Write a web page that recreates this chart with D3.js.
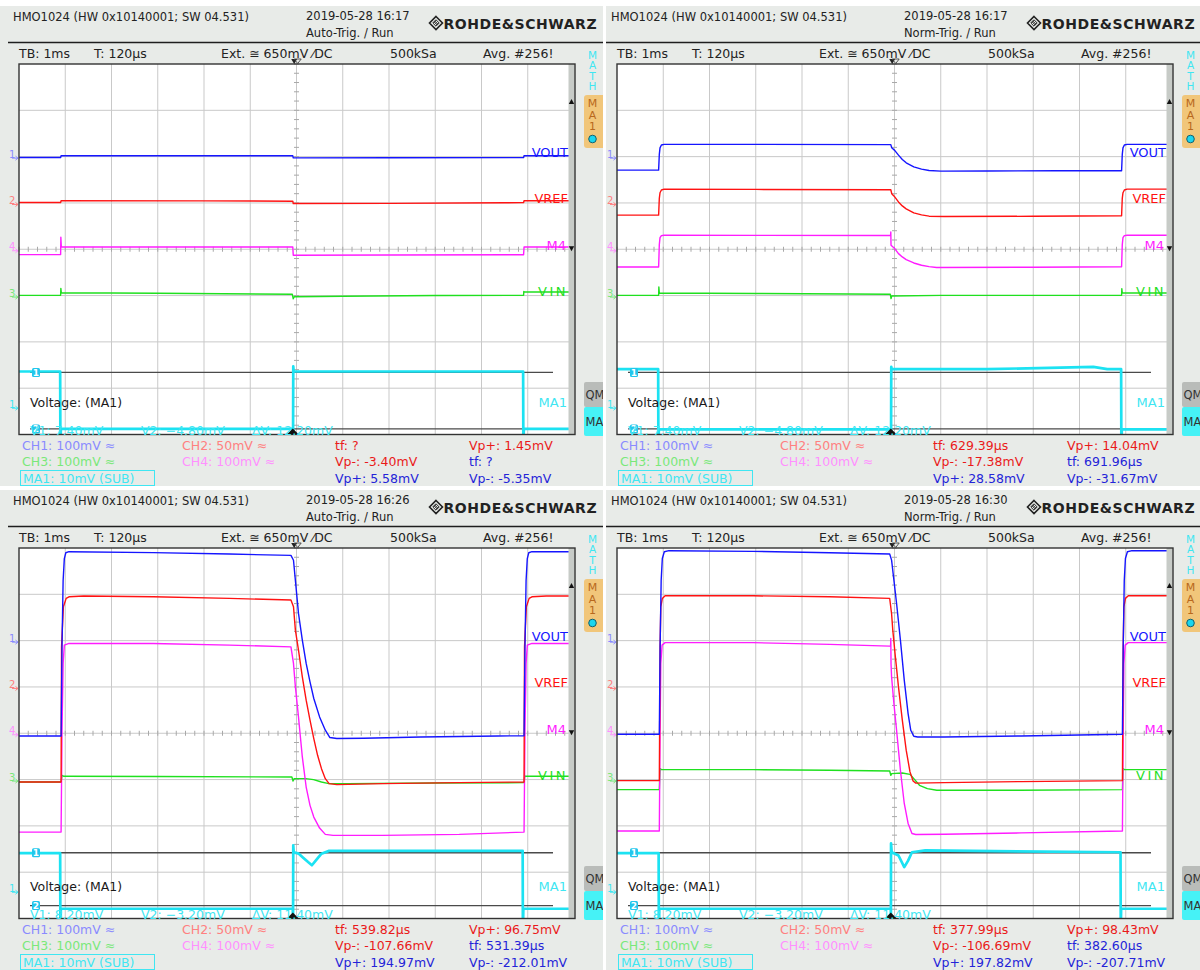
<!DOCTYPE html>
<html><head><meta charset="utf-8">
<script src="https://cdnjs.cloudflare.com/ajax/libs/d3/7.8.5/d3.min.js"></script>
<style>
body{margin:0;background:#fff}
svg{display:block}
text{font-family:"DejaVu Sans",sans-serif}
</style>
</head><body>
<svg id="c" width="1200" height="970"></svg>
<script>
// ---- screen header / readout strings (one entry per capture) ----
const captureDates = ["2019-05-28 16:17", "2019-05-28 16:17", "2019-05-28 16:26", "2019-05-28 16:30"];
const triggerModes = ["Auto-Trig. / Run", "Norm-Trig. / Run", "Auto-Trig. / Run", "Norm-Trig. / Run"];
const redTf      = ["?", "629.39µs", "539.82µs", "377.99µs"];
const redVpPlus  = ["1.45mV", "14.04mV", "96.75mV", "98.43mV"];
const redVpMinus = ["-3.40mV", "-17.38mV", "-107.66mV", "-106.69mV"];
const blueTf      = ["?", "691.96µs", "531.39µs", "382.60µs"];
const blueVpPlus  = ["5.58mV", "28.58mV", "194.97mV", "197.82mV"];
const blueVpMinus = ["-5.35mV", "-31.67mV", "-212.01mV", "-207.71mV"];
const cursorV1 = [7.40, 7.40, 8.20, 8.20];
const cursorV2 = [-4.80, -4.80, -3.20, -3.20];

// ---- channel settings: name, id, mV/div, offset (div) ----
const chNames  = ["VOUT", "VREF", "M4", "VIN"];
const chIds    = ["1", "2", "4", "3"];
const chScale  = [100, 50, 100, 100];
const chOffset = [2, 1, 0, -1];
const mathScale = 10, mathOffset = -3.4;

// ---- traces: [time ms, value mV] ----
// capture 1 (16:17 auto)
const voutA = [[-6,-1.8],[-5.10,-1.8],[-5.09,1.8],[-0.08,1.8],[-0.07,-2.6],[2,-2.3],[4.91,-2.1],[4.92,1.8],[6,1.8]];
const vrefA = [[-6,0.5],[-5.10,0.5],[-5.09,2.4],[-2,2.2],[-0.08,1.9],[-0.07,-0.6],[2,-0.5],[4.5,0.2],[4.91,0.3],[4.92,2.4],[6,2.4]];
const m4A   = [[-6,-11.5],[-5.10,-11.5],[-5.095,26],[-5.085,5],[-0.08,5],[-0.07,-13],[2,-12.5],[4.91,-11.8],[4.92,5],[6,5]];
const vinA  = [[-6,0.5],[-5.10,0.5],[-5.095,15.5],[-5.085,6],[-3,5],[-0.09,2.7],[-0.07,-7],[-0.05,-2.7],[1,-1.5],[3,0],[4.91,0.5],[4.915,9],[4.925,7.7],[6,7.7]];
const ma1A  = [[-6,7.6],[-5.11,7.6],[-5.105,-9],[-5.095,-4.8],[-0.08,-4.8],[-0.075,-9],[-0.07,8.7],[-0.06,7.6],[4.9,7.6],[4.905,-9],[4.915,-4.8],[6,-4.8]];

// capture 2 (16:17 normal)
const voutB = [[-6,-29.2],[-5.10,-29.2],[-5.085,5],[-5.07,19],[-5.04,25],[-4.98,26.4],[-3,26.4],[-0.08,26],[-0.06,19],[0.004,13.5],[0.086,3.2],[0.169,-6.1],[0.253,-13.4],[0.417,-22],[0.584,-27],[0.748,-29.9],[1.0,-31.2],[2,-31],[3.5,-30.6],[4.91,-30.4],[4.925,5],[4.94,19],[4.97,25],[5.03,26.4],[6,26.4]];
const vrefB = [[-6,-13.2],[-5.10,-13.2],[-5.085,5],[-5.07,11],[-5.04,14],[-4.98,14.9],[-3,14.6],[-0.08,14.2],[-0.06,10],[0.004,6.6],[0.086,1.1],[0.169,-3.2],[0.253,-6.4],[0.417,-10.8],[0.584,-12.9],[0.748,-14.3],[1.08,-14.7],[3,-14.4],[4.91,-13.8],[4.925,5],[4.94,11],[4.97,14],[5.03,14.9],[6,14.9]];
const m4B   = [[-6,-38.3],[-5.10,-38.3],[-5.085,10],[-5.07,25],[-5.04,29.5],[-4.98,30.3],[-3,30],[-0.085,29.6],[-0.08,37.4],[-0.075,8.6],[0.004,1.4],[0.086,-9.4],[0.169,-16.6],[0.253,-22.4],[0.417,-29.6],[0.584,-34.6],[0.748,-37.5],[0.91,-39.3],[3,-38.9],[4.91,-37.8],[4.925,10],[4.94,25],[4.97,29.5],[5.03,30.3],[6,30.3]];
const vinB  = [[-6,0.5],[-5.10,0.5],[-5.095,18.5],[-5.085,5.6],[-3,4.5],[-0.09,2.7],[-0.075,-6.7],[-0.06,-0.9],[1,0.3],[4.91,0.5],[4.915,15],[4.925,5.6],[6,5.6]];
const ma1B  = [[-6,8.1],[-5.11,8.1],[-5.105,-9],[-5.095,-4.9],[-0.08,-4.9],[-0.075,-9],[-0.07,8.6],[-0.06,8.1],[2,8.1],[4.3,8.6],[4.6,8.1],[4.9,8.1],[4.905,-9],[4.915,-4.9],[6,-4.9]];

// capture 3 (16:26 auto)
const voutC = [[-6,-206],[-5.09,-206],[-5.07,-13.4],[-5.046,130],[-5.02,177],[-4.988,189.8],[-4.92,192],[-3.10,190],[-1.45,187],[-0.12,184],[-0.065,173.6],[-0.024,130],[0.043,58.8],[0.126,1.1],[0.209,-49.3],[0.292,-89],[0.374,-125],[0.499,-164.7],[0.623,-193.5],[0.722,-209.3],[0.871,-211.4],[1.45,-210.8],[2.69,-208],[4.35,-205.8],[4.92,-205.5],[4.94,-13.4],[4.964,130],[4.99,177],[5.022,189.8],[5.09,192],[6,192]];
const vrefC = [[-6,-102.6],[-5.09,-102.6],[-5.08,43.3],[-5.04,86.5],[-4.98,95.6],[-4.92,97.3],[-4.6,98.1],[-3.1,97.3],[-1.45,95.6],[-0.12,93.8],[-0.065,86.5],[-0.024,61.3],[0.043,39.7],[0.126,10.9],[0.209,-14.3],[0.292,-35.9],[0.374,-55.7],[0.456,-73.8],[0.54,-88.2],[0.623,-99],[0.705,-104.4],[0.871,-105.5],[1.86,-104.4],[3.52,-103.3],[4.92,-102.6],[4.93,43.3],[4.97,86.5],[5.03,95.6],[5.09,97.3],[5.4,98.1],[6,98.1]];
const m4C   = [[-6,-213.4],[-5.09,-213.4],[-5.07,6.5],[-5.046,150.7],[-5.02,190.3],[-4.92,193.9],[-3.1,193.9],[-1.45,190.3],[-0.12,186.6],[-0.065,150.7],[-0.024,100.1],[0.043,35.2],[0.126,-51.2],[0.209,-116.1],[0.292,-155.7],[0.374,-181],[0.499,-204.7],[0.623,-218.4],[0.79,-220.5],[1.86,-220.5],[3.52,-218.4],[4.92,-213.4],[4.94,6.5],[4.964,150.7],[4.99,190.3],[5.09,193.9],[6,193.9]];
const vinC  = [[-6,-5.3],[-5.09,-5.3],[-5.07,9],[-5.03,7],[-3,6.5],[-0.1,5.6],[-0.075,-3.1],[-0.05,2],[0.2,2],[0.37,-0.1],[0.54,-5.3],[0.7,-8.8],[1.1,-8.8],[3,-7.4],[4.92,-6.7],[4.935,8],[4.96,7],[6,7]];
const ma1C  = [[-6,8.1],[-5.11,8.1],[-5.105,-9],[-5.095,-3.9],[-0.08,-3.9],[-0.075,-9],[-0.07,9.8],[-0.06,8.3],[0.05,8],[0.126,7.3],[0.25,6.2],[0.333,5.5],[0.415,6.5],[0.54,8],[0.705,8.6],[4.89,8.6],[4.895,-9],[4.905,-3.9],[6,-3.9]];

// capture 4 (16:30 normal)
const voutD = [[-6,-202.1],[-5.085,-202.1],[-5.068,-13.4],[-5.045,130.4],[-5.02,177.3],[-4.977,192],[-4.878,194.2],[-3.057,192.7],[-1.40,189.8],[-0.104,186.9],[-0.063,173.9],[-0.013,130.6],[0.045,80.2],[0.128,1.1],[0.211,-85.4],[0.294,-157.5],[0.352,-193.6],[0.418,-206.6],[0.5,-208],[1.08,-208],[2.735,-205.8],[4.928,-202.1],[4.945,-13.4],[4.968,130.4],[4.993,177.3],[5.036,192],[5.135,194.2],[6,194.2]];
const vrefD = [[-6,-101.2],[-5.085,-101.2],[-5.068,43.3],[-5.053,86.5],[-5.02,95.6],[-4.96,98.4],[-3.057,98.4],[-1.40,97.3],[-0.104,95.6],[-0.063,79],[-0.037,61.3],[0.019,32.5],[0.086,0.1],[0.169,-35.9],[0.253,-68.3],[0.335,-91.7],[0.402,-101.6],[0.46,-103.8],[1.08,-103.3],[2.735,-102.2],[4.928,-101.2],[4.945,43.3],[4.96,86.5],[4.993,95.6],[5.055,98.4],[6,98.4]];
const m4D   = [[-6,-211.2],[-5.085,-211.2],[-5.068,6.5],[-5.053,150.7],[-5.025,190.3],[-4.96,195.7],[-3.057,195.7],[-1.40,191.8],[-0.104,188.1],[-0.085,188],[-0.08,204.7],[-0.075,150],[-0.063,121.8],[-0.013,64.3],[0.045,6.5],[0.128,-80],[0.211,-151.6],[0.294,-194.8],[0.378,-216.5],[0.46,-218.6],[1.08,-218],[2.735,-215.2],[4.928,-211.2],[4.945,6.5],[4.96,150.7],[4.988,190.3],[5.055,195.7],[6,195.7]];
const vinD  = [[-6,-21.7],[-5.085,-21.7],[-5.07,23.7],[-5.04,21.5],[-3.057,21.5],[-1.40,20],[-0.104,18.5],[-0.08,9.2],[-0.06,12.8],[0.169,14.2],[0.335,11.3],[0.418,2],[0.54,-12.4],[0.71,-19.6],[0.915,-23.2],[2.7,-23.2],[4.928,-21.7],[4.94,23.7],[4.97,21.5],[6,21.5]];
const ma1D  = [[-6,8.1],[-5.10,8.1],[-5.095,-9],[-5.085,-3.9],[-0.08,-3.9],[-0.078,-9],[-0.075,10.2],[-0.06,8.3],[0.086,7.6],[0.211,5.1],[0.294,6.5],[0.378,8.3],[0.666,8.7],[4.887,8.3],[4.892,-9],[4.9,-3.9],[6,-3.9]];

const traceSets = [
  [voutA, vrefA, m4A, vinA, ma1A],
  [voutB, vrefB, m4B, vinB, ma1B],
  [voutC, vrefC, m4C, vinC, ma1C],
  [voutD, vrefD, m4D, vinD, ma1D]
];

// ---- styling ----
const traceColor  = ["#1515ff", "#ff1212", "#ff1cff", "#1fe01f"];
const markerColor = ["#8a8aff", "#ff8080", "#ff90ff", "#7ae87a"];
const mathColor = "#1ce2f2";
const BG = "#e8ebe8";
const FONT = '"DejaVu Sans", sans-serif';

const svg = d3.select("#c");
svg.append("rect").attr("width", 1200).attr("height", 970).attr("fill", "#ffffff");
const defs = svg.append("defs");

// one screen = 12 x 8 divisions, 1 ms/div horizontally
const x = d3.scaleLinear().domain([-6, 6]).range([19, 574]);
const yDiv = d3.scaleLinear().domain([4, -4]).range([64, 434.5]);
const gx0 = x(-6), gx1 = x(6), gy0 = yDiv(4), gy1 = yDiv(-4);

const screens = [
  {ox: 0,   oy: 0,   cx0: 0, cx1: 603},
  {ox: 598, oy: 0,   cx0: 8, cx1: 602},
  {ox: 0,   oy: 484, cx0: 0, cx1: 603},
  {ox: 598, oy: 484, cx0: 8, cx1: 602}
];

defs.append("clipPath").attr("id", "gridclip")
  .append("rect").attr("x", gx0).attr("y", gy0).attr("width", gx1 - gx0).attr("height", gy1 - gy0);

function txt(g, px, py, s, o = {}) {
  return g.append("text").attr("x", px).attr("y", py).text(s)
    .attr("font-size", o.size || 12.5)
    .attr("font-weight", o.weight || "normal")
    .attr("fill", o.color || "#222")
    .attr("text-anchor", o.anchor || "start")
    .attr("letter-spacing", o.ls || 0)
    .attr("font-family", FONT);
}

screens.forEach((s, i) => {
  defs.append("clipPath").attr("id", "pclip" + i)
    .append("rect").attr("x", s.cx0).attr("y", 6).attr("width", s.cx1 - s.cx0).attr("height", 480);
  const g = svg.append("g").attr("transform", `translate(${s.ox},${s.oy})`)
    .attr("clip-path", `url(#pclip${i})`);

  g.append("rect").attr("x", s.cx0).attr("y", 6).attr("width", s.cx1 - s.cx0).attr("height", 480).attr("fill", BG);

  // header
  txt(g, 13, 21, "HMO1024 (HW 0x10140001; SW 04.531)", {size: 11.5});
  txt(g, 306, 20, captureDates[i], {size: 11.5});
  txt(g, 306, 36.5, triggerModes[i], {size: 11.5});
  const lg = g.append("g").attr("transform", "translate(436,23)");
  lg.append("path").attr("d", "M0,-6.5 L6.5,0 L0,6.5 L-6.5,0 Z").attr("fill", "none").attr("stroke", "#222").attr("stroke-width", 1.6);
  lg.append("path").attr("d", "M0,-3.2 L3.2,0 L0,3.2 L-3.2,0 Z M-2,-1.2 L1.2,2 M-1.2,-2 L2,1.2").attr("fill", "none").attr("stroke", "#222").attr("stroke-width", 1);
  txt(g, 443.5, 28.5, "ROHDE&SCHWARZ", {size: 14, weight: "bold", ls: 0.55});
  g.append("line").attr("x1", 8).attr("x2", 603).attr("y1", 42.5).attr("y2", 42.5).attr("stroke", "#1e1e1e").attr("stroke-width", 1.6);

  // acquisition row
  txt(g, 19, 57.5, "TB: 1ms");
  txt(g, 94, 57.5, "T: 120µs");
  txt(g, 221, 57.5, "Ext. ≅ 650mV ⁄DC");
  txt(g, 390, 57.5, "500kSa");
  txt(g, 483, 57.5, "Avg. #256!");

  // graticule
  g.append("rect").attr("x", gx0).attr("y", gy0).attr("width", gx1 - gx0).attr("height", gy1 - gy0).attr("fill", "#fff");
  const gridG = g.append("g").attr("stroke", "#c9c9c9").attr("stroke-width", 1);
  d3.range(-5, 6).forEach(t => gridG.append("line").attr("x1", x(t)).attr("x2", x(t)).attr("y1", gy0).attr("y2", gy1));
  d3.range(-3, 4).forEach(d => gridG.append("line").attr("x1", gx0).attr("x2", gx1).attr("y1", yDiv(d)).attr("y2", yDiv(d)));
  const tickG = g.append("g").attr("stroke", "#a8a8a8").attr("stroke-width", 1);
  d3.range(-6, 6.01, 0.2).forEach(t => tickG.append("line").attr("x1", x(t)).attr("x2", x(t)).attr("y1", yDiv(0) - 2.5).attr("y2", yDiv(0) + 2.5));
  d3.range(-4, 4.01, 0.2).forEach(d => tickG.append("line").attr("x1", x(0) - 2.5).attr("x2", x(0) + 2.5).attr("y1", yDiv(d)).attr("y2", yDiv(d)));

  // cursor lines of the math channel
  const yMath = v => yDiv(mathOffset + v / mathScale);
  [cursorV1[i], cursorV2[i]].forEach((v, k) => {
    g.append("line").attr("x1", 30).attr("x2", 553).attr("y1", yMath(v)).attr("y2", yMath(v))
      .attr("stroke", "#4a4a4a").attr("stroke-width", 1.3);
  });

  // traces
  const tg = g.append("g").attr("clip-path", "url(#gridclip)");
  const sets = traceSets[i];
  const order = [4, 3, 2, 1, 0];
  order.forEach(k => {
    const isMath = k === 4;
    const sc = isMath ? mathScale : chScale[k];
    const off = isMath ? mathOffset : chOffset[k];
    const line = d3.line().x(d => x(d[0])).y(d => yDiv(off + d[1] / sc));
    tg.append("path").datum(sets[k]).attr("d", line)
      .attr("fill", "none")
      .attr("stroke", isMath ? mathColor : traceColor[k])
      .attr("stroke-width", isMath ? 2.7 : 1.4)
      .attr("stroke-linejoin", "round");
  });

  // cursor markers
  [cursorV1[i], cursorV2[i]].forEach((v, k) => {
    const yy = yMath(v);
    g.append("rect").attr("x", 32).attr("y", yy - 4.5).attr("width", 8).attr("height", 9).attr("rx", 1.5).attr("fill", "#22c6ec");
    txt(g, 36, yy + 3.5, String(k + 1), {size: 9, color: "#ffffff", anchor: "middle", weight: "bold"});
  });

  // trace labels
  chNames.forEach((n, k) => {
    const yy = yDiv(chOffset[k]);
    txt(g, n === "M4" ? 566 : 568, yy + 0.5, n, {size: 13, color: traceColor[k], anchor: "end", ls: n === "VIN" ? 2.5 : 0});
  });
  txt(g, 567, yDiv(mathOffset) + 0.5, "MA1", {size: 13, color: "#3fe6f2", anchor: "end"});

  // scroll strip on the right edge of the graticule
  g.append("rect").attr("x", 568.5).attr("y", gy0).attr("width", 6).attr("height", gy1 - gy0).attr("fill", "#c7cbc7");
  g.append("path").attr("d", `M568.8,${yDiv(3.2) + 3} L574.2,${yDiv(3.2) + 3} L571.5,${yDiv(3.2) - 2} Z`).attr("fill", "#111");
  g.append("path").attr("d", `M568.8,${yDiv(0) - 3} L574.2,${yDiv(0) - 3} L571.5,${yDiv(0) + 2} Z`).attr("fill", "#111");

  // graticule frame
  g.append("rect").attr("x", gx0).attr("y", gy0).attr("width", gx1 - gx0 + 1).attr("height", gy1 - gy0).attr("fill", "none").attr("stroke", "#333").attr("stroke-width", 1.4);

  // trigger position markers
  const xt = x(-0.05);
  g.append("path").attr("d", `M${xt - 3},${gy0 - 5} L${xt + 3},${gy0 - 5} L${xt},${gy0} Z`).attr("fill", "#222");
  g.append("path").attr("d", `M${xt},${gy0 - 5} L${xt + 7},${gy0 - 5} L${xt + 3.5},${gy0 - 0.5} Z`).attr("fill", "none").attr("stroke", "#444").attr("stroke-width", 0.9);
  const xb = x(-0.08);
  g.append("path").attr("d", `M${xb - 6},${gy1} L${xb + 6},${gy1} L${xb},${gy1 - 6} Z`).attr("fill", "#111");

  // channel reference markers at the left edge
  const refMark = (yy, digit, color) => {
    txt(g, 9, yy + 1, digit, {size: 10, color: color});
    g.append("path").attr("d", `M12,${yy + 1.5} L18,${yy + 1.5} M15.5,${yy - 0.5} L18,${yy + 1.5} L15.5,${yy + 3.5}`)
      .attr("fill", "none").attr("stroke", color).attr("stroke-width", 1);
  };
  chIds.forEach((d, k) => refMark(yDiv(chOffset[k]), d, markerColor[k]));
  refMark(yDiv(mathOffset), "1", "#3fe6f2");

  // right-side soft keys
  ["M", "A", "T", "H"].forEach((c, k) => txt(g, 592.5, 59 + k * 10.3, c, {size: 10.5, color: "#3fe6f2", anchor: "middle"}));
  g.append("rect").attr("x", 584).attr("y", 95).attr("width", 26).attr("height", 53).attr("rx", 3).attr("fill", "#f1c67a");
  ["M", "A", "1"].forEach((c, k) => txt(g, 592.5, 107 + k * 11.5, c, {size: 11, color: "#b8681c", anchor: "middle"}));
  g.append("circle").attr("cx", 592.5).attr("cy", 139).attr("r", 3.8).attr("fill", "#1ad6ee").attr("stroke", "#14606e").attr("stroke-width", 1);
  g.append("rect").attr("x", 584).attr("y", 382).attr("width", 26).attr("height", 25).attr("rx", 2).attr("fill", "#b9bcb9");
  txt(g, 585.5, 399, "QM", {size: 11.5, color: "#333"});
  g.append("rect").attr("x", 584).attr("y", 407).attr("width", 26).attr("height", 29).attr("rx", 2).attr("fill", "#46f2f6");
  txt(g, 585.5, 426, "MA", {size: 11.5, color: "#333"});

  // math readout inside the graticule
  txt(g, 30, 406.5, "Voltage: (MA1)", {color: "#1a1a1a"});
  const f2 = d3.format(".2f");
  txt(g, 30, 434.5, `V1: ${f2(cursorV1[i])}mV`, {color: "#3fe6f2"});
  txt(g, 141, 434.5, `V2: ${f2(cursorV2[i])}mV`, {color: "#3fe6f2"});
  txt(g, 252, 434.5, `ΔV: ${f2(cursorV1[i] - cursorV2[i])}mV`, {color: "#3fe6f2"});

  // channel settings and measurements below the graticule
  txt(g, 22, 449.5, "CH1: 100mV ≈", {color: markerColor[0]});
  txt(g, 182, 449.5, "CH2: 50mV ≈", {color: markerColor[1]});
  txt(g, 22, 466, "CH3: 100mV ≈", {color: markerColor[3]});
  txt(g, 182, 466, "CH4: 100mV ≈", {color: markerColor[2]});
  g.append("rect").attr("x", 20.5).attr("y", 470.5).attr("width", 134).attr("height", 15).attr("fill", "none").attr("stroke", "#3fe6f2").attr("stroke-width", 1);
  txt(g, 23, 482.5, "MA1: 10mV (SUB)", {color: "#3fe6f2"});
  const RED = "#ea1a1a", BLUE = "#2424d8";
  txt(g, 335, 449.5, `tf: ${redTf[i]}`, {color: RED});
  txt(g, 469, 449.5, `Vp+: ${redVpPlus[i]}`, {color: RED});
  txt(g, 335, 466, `Vp-: ${redVpMinus[i]}`, {color: RED});
  txt(g, 469, 466, `tf: ${blueTf[i]}`, {color: BLUE});
  txt(g, 335, 482.5, `Vp+: ${blueVpPlus[i]}`, {color: BLUE});
  txt(g, 469, 482.5, `Vp-: ${blueVpMinus[i]}`, {color: BLUE});
});
</script>
</body></html>
